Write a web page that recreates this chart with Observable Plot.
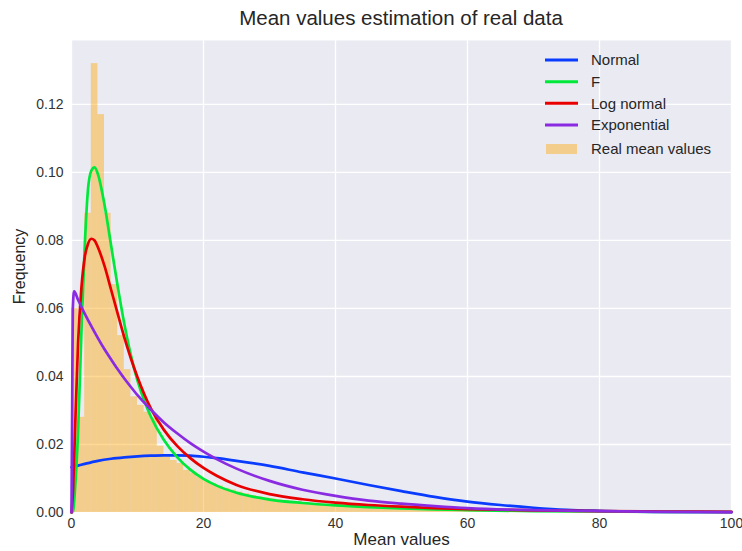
<!DOCTYPE html>
<html>
<head>
<meta charset="utf-8">
<script src="https://cdn.jsdelivr.net/npm/d3@7"></script>
<script src="https://cdn.jsdelivr.net/npm/@observablehq/plot@0.6"></script>
<style>
  html, body { margin: 0; padding: 0; background: #ffffff; }
  #wrap { position: relative; width: 742px; height: 551px; font-family: "Liberation Sans", Arial, sans-serif; }
  #title { position: absolute; z-index: 2; left: 71px; width: 660px; top: 6px; text-align: center; font-size: 20.5px; color: #262626; }
</style>
</head>
<body>
<div id="wrap"><div id="title">Mean values estimation of real data</div></div>
<script>
// ---- data ----
const title = "Mean values estimation of real data";
const xTicks = [0, 20, 40, 60, 80, 100];
const yTicks = [0, 0.02, 0.04, 0.06, 0.08, 0.10, 0.12];

// histogram: one bin per unit of "Mean values", starting at 0
const histFreq = [
  0.060, 0.028, 0.088, 0.132, 0.117, 0.088, 0.067, 0.052, 0.042, 0.034,
  0.0315, 0.0295, 0.0276, 0.0195, 0.0163, 0.0153, 0.0144, 0.0124, 0.0116, 0.0104,
  0.0094, 0.0085, 0.0078, 0.0071, 0.0066, 0.0060, 0.0055, 0.0050, 0.0046, 0.0043,
  0.0040, 0.0037, 0.0035, 0.0032, 0.0030, 0.0029, 0.0027, 0.0025, 0.0024, 0.0022,
  0.0020, 0.0019, 0.0018, 0.0017, 0.0016, 0.0015, 0.0014, 0.0013, 0.0013, 0.0012,
  0.0011, 0.0011, 0.0010, 0.0010, 0.0009, 0.0009, 0.0008, 0.0008, 0.0007, 0.0007,
  0.0007, 0.0006, 0.0006, 0.0006, 0.0005, 0.0005, 0.0005, 0.0005, 0.0004, 0.0004,
  0.0004, 0.0004, 0.0004, 0.0003, 0.0003, 0.0003, 0.0003, 0.0003, 0.0003, 0.0002,
  0.0002, 0.0002, 0.0002, 0.0002, 0.0002, 0.0002, 0.0002, 0.0002, 0.0001, 0.0001,
  0.0001, 0.0001, 0.0001, 0.0001, 0.0001, 0.0001, 0.0001, 0.0001, 0.0001, 0.0001
];

const normalX = [0, 1, 2, 4, 6, 8, 10, 12, 14, 16, 18, 20, 22, 25, 30, 35, 40, 45, 50, 55, 60, 65, 70, 75, 80, 90, 100];
const normalY = [0.0133, 0.0138, 0.0143, 0.0152, 0.0158, 0.0162, 0.0165, 0.0167, 0.0168, 0.0168, 0.0167, 0.0164, 0.0160, 0.0152, 0.0137, 0.0118, 0.0100, 0.0081, 0.0063, 0.0046, 0.0032, 0.0022, 0.0014, 0.0008, 0.0005, 0.0002, 0.0001];

const fX = [0, 0.25, 0.5, 1, 1.5, 2, 2.5, 3, 3.5, 4, 5, 6, 7, 8, 9, 10, 11, 12, 14, 16, 18, 20, 22, 25, 30, 35, 40, 45, 50, 55, 60, 70, 80, 90, 100];
const fY = [0, 0.0005, 0.006, 0.024, 0.053, 0.078, 0.095, 0.1005, 0.1015, 0.0995, 0.0905, 0.0785, 0.0665, 0.0555, 0.0462, 0.0388, 0.0330, 0.0283, 0.0213, 0.0163, 0.0126, 0.0099, 0.0079, 0.0058, 0.0038, 0.0028, 0.0021, 0.0016, 0.0012, 0.0009, 0.0007, 0.0004, 0.0003, 0.0002, 0.00015];

const logX = [0, 0.25, 0.5, 1, 1.5, 2, 2.5, 3, 3.5, 4, 5, 6, 7, 8, 9, 10, 12, 14, 16, 18, 20, 22, 25, 30, 35, 40, 45, 50, 55, 60, 70, 80, 90, 100];
const logY = [0, 0.007, 0.022, 0.050, 0.066, 0.075, 0.079, 0.0805, 0.080, 0.078, 0.0725, 0.0655, 0.0585, 0.0515, 0.0453, 0.0398, 0.0307, 0.0243, 0.0196, 0.0160, 0.0131, 0.0108, 0.0081, 0.0054, 0.0039, 0.0029, 0.0022, 0.0017, 0.0013, 0.0010, 0.0006, 0.0004, 0.0003, 0.0002];

const expX = [0, 0.1, 0.2, 0.4, 1, 2, 3, 4, 5, 6, 7, 8, 9, 10, 12, 14, 16, 18, 20, 22, 25, 30, 35, 40, 45, 50, 55, 60, 70, 80, 90, 100];
const expY = [0, 0.030, 0.060, 0.065, 0.0625, 0.0585, 0.0548, 0.0513, 0.0480, 0.0450, 0.0421, 0.0394, 0.0369, 0.0345, 0.0303, 0.0265, 0.0233, 0.0204, 0.0179, 0.0157, 0.0129, 0.0093, 0.0067, 0.0049, 0.0035, 0.0026, 0.0019, 0.0013, 0.0007, 0.0004, 0.0002, 0.0001];

const seriesNames = ["Normal", "F", "Log normal", "Exponential"];
const seriesColors = ["#0a3cff", "#00e83a", "#e80000", "#8a2be2"];
const histName = "Real mean values";
const histColor = "orange";

// ---- tables built from the arrays ----
const bins = histFreq.map((f, i) => ({x1: i, x2: i + 1, y: f}));
const series = [
  normalX.map((x, i) => ({x, y: normalY[i]})),
  fX.map((x, i) => ({x, y: fY[i]})),
  logX.map((x, i) => ({x, y: logY[i]})),
  expX.map((x, i) => ({x, y: expY[i]}))
];

const font = "Liberation Sans, Arial, sans-serif";
const plot = Plot.plot({
  width: 742,
  height: 551,
  marginLeft: 71,
  marginRight: 11,
  marginTop: 40,
  marginBottom: 39,
  style: {fontFamily: font, fontSize: "14px", color: "#333333", background: "white", overflow: "visible"},
  x: {domain: [0, 100], label: null},
  y: {domain: [0, 0.1388], label: null},
  marks: [
    Plot.frame({fill: "#EAEAF2", stroke: null}),
    Plot.gridX(xTicks, {stroke: "white", strokeOpacity: 1, strokeWidth: 1.3}),
    Plot.gridY(yTicks, {stroke: "white", strokeOpacity: 1, strokeWidth: 1.3}),
    Plot.rectY(bins, {x1: "x1", x2: "x2", y: "y", fill: histColor, fillOpacity: 0.42, inset: 0}),
    ...series.map((s, i) => Plot.line(s, {x: "x", y: "y", stroke: seriesColors[i], strokeWidth: 2.7, curve: "monotone-x"})),
    Plot.axisX(xTicks, {tickSize: 0, tickPadding: 6, fontSize: 14, label: null, fill: "#333333"}),
    Plot.axisY(yTicks, {tickSize: 0, tickPadding: 8, fontSize: 14, label: null, tickFormat: d => d.toFixed(2), fill: "#333333"}),
    Plot.text(["Mean values"], {frameAnchor: "bottom", dy: 32, fontSize: 17, fill: "#262626", textAnchor: "middle"}),
    Plot.text(["Frequency"], {frameAnchor: "left", dx: -52, dy: -10, rotate: -90, fontSize: 16, fill: "#262626", textAnchor: "middle"})
  ]
});

// legend (upper right, inside the axes)
const svg = d3.select(plot);
const lg = svg.append("g").attr("font-family", font).attr("font-size", 15)
  .attr("fill", "#262626").attr("text-anchor", "start");
const rowY = [60, 81.7, 103.3, 125, 149];
seriesNames.forEach((name, i) => {
  lg.append("line").attr("x1", 545).attr("x2", 578).attr("y1", rowY[i]).attr("y2", rowY[i])
    .attr("stroke", seriesColors[i]).attr("stroke-width", 3);
  lg.append("text").attr("x", 591).attr("y", rowY[i]).attr("dy", "0.35em").text(name);
});
lg.append("rect").attr("x", 546).attr("y", rowY[4] - 5).attr("width", 31).attr("height", 10)
  .attr("fill", histColor).attr("fill-opacity", 0.42);
lg.append("text").attr("x", 591).attr("y", rowY[4]).attr("dy", "0.35em").text(histName);

document.getElementById("wrap").appendChild(plot);
plot.style.position = "absolute";
plot.style.left = "0px";
plot.style.top = "0px";
</script>
</body>
</html>
